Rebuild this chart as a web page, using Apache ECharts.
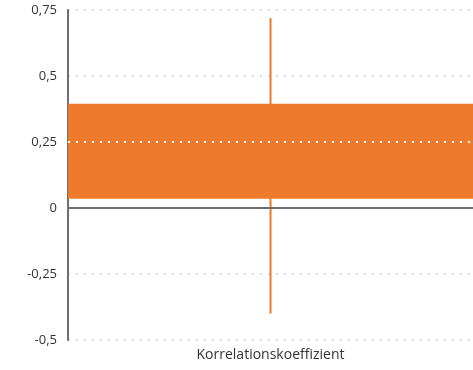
<!DOCTYPE html>
<html>
<head>
<meta charset="utf-8">
<script src="https://cdn.jsdelivr.net/npm/echarts@6/dist/echarts.min.js"></script>
<style>
  html, body { margin: 0; padding: 0; background: #fff; }
  #chart { width: 473px; height: 370px; }
</style>
</head>
<body>
<div id="chart"></div>
<script>
// Spread of the correlation coefficient: range (whiskers) and central band (box)
const categories = ['Korrelationskoeffizient'];
const rangeLow = [-0.40];
const bandLow = [0.035];
const bandHigh = [0.395];
const rangeHigh = [0.72];
const yTicks = { min: -0.5, max: 0.75, step: 0.25 };
const highlightLevel = 0.25;

const ORANGE = '#ED7B2B';
const FONT = '"Open Sans", Lato, sans-serif';

const seriesData = categories.map((c, i) => [i, rangeLow[i], bandLow[i], bandHigh[i], rangeHigh[i]]);

const chart = echarts.init(document.getElementById('chart'), null, { renderer: 'canvas' });

chart.setOption({
  animation: false,
  grid: { left: 68, right: 0, top: 10, bottom: 30 },
  xAxis: {
    type: 'category',
    data: categories,
    axisLine: { show: false },
    axisTick: { show: false },
    axisLabel: { color: '#333', fontFamily: FONT, fontSize: 14, margin: 8 },
    splitLine: { show: false }
  },
  yAxis: {
    type: 'value',
    min: yTicks.min,
    max: yTicks.max,
    interval: yTicks.step,
    axisLine: { show: true, onZero: false, lineStyle: { color: '#6f6f6f', width: 2 } },
    axisTick: { show: false },
    axisLabel: {
      color: '#333',
      fontFamily: FONT,
      fontSize: 13,
      margin: 11,
      formatter: v => String(v).replace('.', ',')
    },
    splitLine: { show: true, lineStyle: { color: '#d2d2d2', width: 1.5, type: [2, 6] } }
  },
  series: [{
    type: 'custom',
    data: seriesData,
    encode: { x: 0, y: [1, 2, 3, 4] },
    renderItem: function (params, api) {
      const idx = api.value(0);
      const lowPt = api.coord([idx, api.value(1)]);
      const highPt = api.coord([idx, api.value(4)]);
      const bTop = api.coord([idx, api.value(3)]);
      const bBot = api.coord([idx, api.value(2)]);
      const bw = api.size([1, 0])[0];
      return {
        type: 'group',
        children: [
          {
            type: 'line',
            shape: { x1: lowPt[0], y1: lowPt[1], x2: highPt[0], y2: highPt[1] },
            style: { stroke: ORANGE, lineWidth: 2 }
          },
          {
            type: 'rect',
            shape: { x: bTop[0] - bw / 2, y: bTop[1], width: bw, height: bBot[1] - bTop[1] },
            style: { fill: ORANGE }
          }
        ]
      };
    },
    markLine: {
      silent: true,
      symbol: ['none', 'none'],
      label: { show: false },
      z: 10,
      data: [
        { yAxis: 0, lineStyle: { color: '#6f6f6f', width: 2, type: 'solid' } },
        { yAxis: highlightLevel, lineStyle: { color: '#ffffff', width: 2, type: [2, 6] } }
      ]
    }
  }]
});
</script>
</body>
</html>
